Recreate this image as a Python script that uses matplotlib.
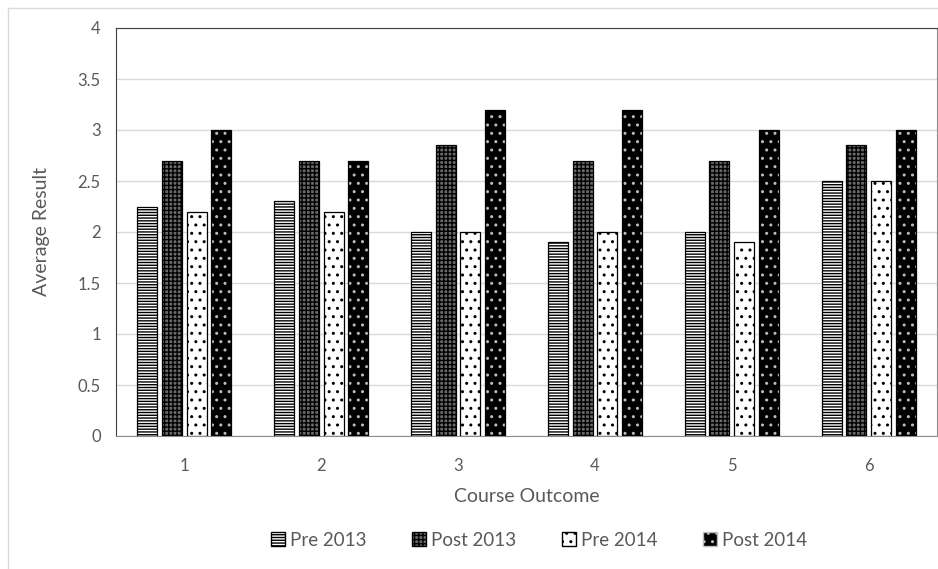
import numpy as np
import matplotlib.pyplot as plt
from matplotlib.lines import Line2D
from matplotlib.patches import Patch

plt.rcParams['font.family'] = ['Lato', 'DejaVu Sans']
plt.rcParams['hatch.linewidth'] = 1.0

outcomes = ["1", "2", "3", "4", "5", "6"]
series = ["Pre 2013", "Post 2013", "Pre 2014", "Post 2014"]
pre_2013 = [2.25, 2.3, 2.0, 1.9, 2.0, 2.5]
post_2013 = [2.7, 2.7, 2.85, 2.7, 2.7, 2.85]
pre_2014 = [2.2, 2.2, 2.0, 2.0, 1.9, 2.5]
post_2014 = [3.0, 2.7, 3.2, 3.2, 3.0, 3.0]

W, H = 938, 569
fig = plt.figure(figsize=(W / 100, H / 100), dpi=100)
ax = fig.add_axes([116 / W, 1 - 436 / H, (937 - 116) / W, (436 - 28) / H])

gray = "#595959"
x = np.arange(len(outcomes))
bw = 0.146
pitch = 0.18
offsets = (np.arange(4) - 1.5) * pitch

# fill, hatch colour, hatch
styles = [
    ("white", "black", "------"),
    ("#6a6a6a", "black", "++++"),
    ("white", "black", ".."),
    ("black", "#bbbbbb", ".."),
]
values = [pre_2013, post_2013, pre_2014, post_2014]

for i, (vals, (fc, hc, hatch)) in enumerate(zip(values, styles)):
    ax.bar(x + offsets[i], vals, bw, color=fc, edgecolor=hc, hatch=hatch,
           linewidth=0, zorder=2)
    ax.bar(x + offsets[i], vals, bw, fill=False, edgecolor="black",
           linewidth=0.9, zorder=3)

ax.set_xlim(-0.5, len(outcomes) - 0.5)
ax.set_ylim(0, 4)
ax.set_yticks(np.arange(0, 4.01, 0.5))
ax.set_yticklabels(["0", "0.5", "1", "1.5", "2", "2.5", "3", "3.5", "4"])
ax.set_xticks(x)
ax.set_xticklabels(outcomes)
ax.tick_params(length=0, colors=gray, labelsize=12)
ax.tick_params(axis="x", pad=16)
ax.tick_params(axis="y", pad=11)
ax.yaxis.grid(True, color="#d9d9d9", linewidth=1, zorder=0)
ax.set_axisbelow(True)

for side in ["left", "top"]:
    ax.spines[side].set_color("#404040")
for side in ["right", "bottom"]:
    ax.spines[side].set_color("#8c8c8c")

ax.set_xlabel("Course Outcome", color=gray, fontsize=14, labelpad=10)
ax.set_ylabel("Average Result", color=gray, fontsize=14)
ax.yaxis.set_label_coords(-66 / 821, 0.5)

# legend built from proxy patches
handles = []
for (fc, hc, hatch), name in zip(styles, series):
    handles.append(Patch(facecolor=fc, edgecolor=hc, hatch=hatch, label=name))
leg = fig.legend(handles=handles, loc="center", bbox_to_anchor=(539 / W, 1 - 540 / H),
                 ncol=4, frameon=False, fontsize=13.5, handlelength=0.75,
                 handleheight=0.75, handletextpad=0.3, columnspacing=2.4)
for t in leg.get_texts():
    t.set_color(gray)

# outer chart border
fig.add_artist(Line2D([8 / W, 8 / W], [0, 1 - 8 / H], color="#d9d9d9", lw=1,
                      transform=fig.transFigure))
fig.add_artist(Line2D([8 / W, 1], [1 - 8 / H, 1 - 8 / H], color="#d9d9d9", lw=1,
                      transform=fig.transFigure))

fig.savefig("out.png", dpi=100)
